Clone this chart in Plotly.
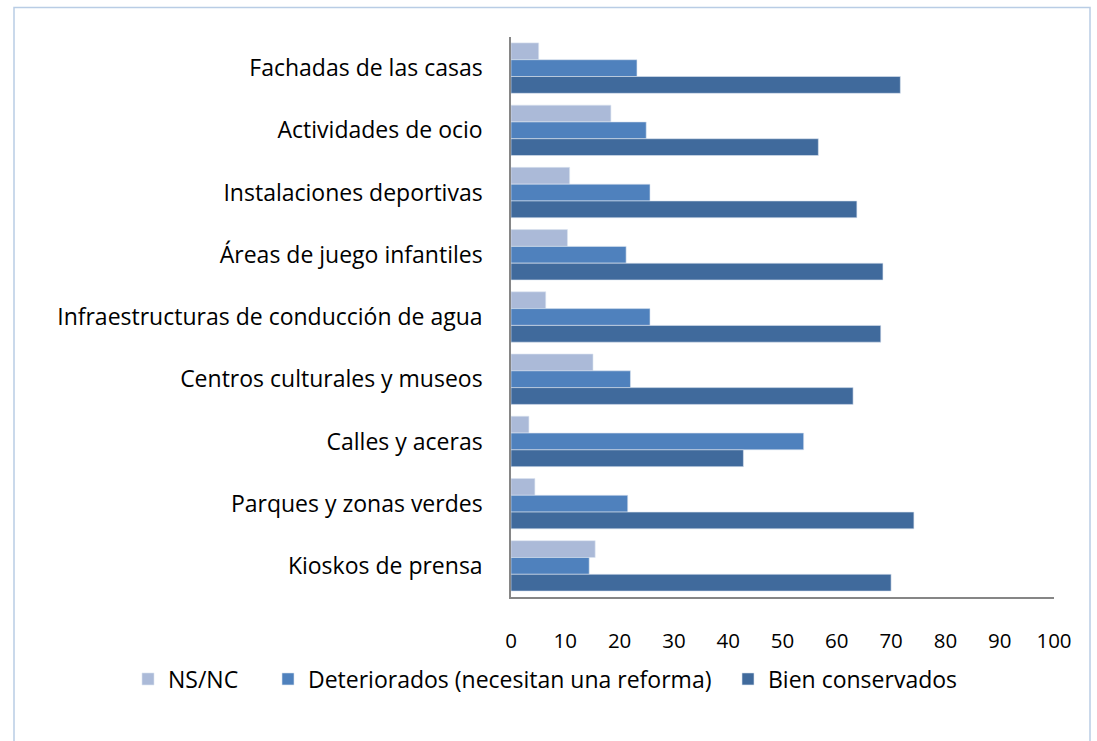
import plotly.graph_objects as go

categories = [
    "Fachadas de las casas",
    "Actividades de ocio",
    "Instalaciones deportivas",
    "Áreas de juego infantiles",
    "Infraestructuras de conducción de agua",
    "Centros culturales y museos",
    "Calles y aceras",
    "Parques y zonas verdes",
    "Kioskos de prensa",
]
ns_nc = [5.1, 18.4, 10.8, 10.4, 6.4, 15.1, 3.3, 4.4, 15.5]
deteriorados = [23.2, 24.9, 25.6, 21.2, 25.6, 22.0, 53.9, 21.5, 14.4]
bien = [71.7, 56.6, 63.7, 68.5, 68.1, 63.0, 42.8, 74.2, 70.0]
series_names = ["NS/NC", "Deteriorados (necesitan una reforma)", "Bien conservados"]
tick_vals = [0, 10, 20, 30, 40, 50, 60, 70, 80, 90, 100]

colors = ["#ABBAD8", "#4F81BD", "#406A9C"]
W, H = 1097, 741
L, R, T, B = 511, 1054, 37, 597
FONT = "Open Sans"
FS = 23
FS_X = 20.5

pw, ph = R - L, B - T
def px_x(px):
    return (px - L) / pw
def px_y(py):
    return (B - py) / ph

legend_ids = ["legend", "legend2", "legend3"]
legend_left = [128, 268, 728]
LEG_Y = 679

fig = go.Figure()
for name, vals, col, lid in zip(series_names, [ns_nc, deteriorados, bien], colors, legend_ids):
    fig.add_trace(go.Bar(
        y=categories, x=vals, name=name, orientation="h", legend=lid,
        marker=dict(color=col, line=dict(color="#DCE4F0", width=0.6)),
    ))

fig.add_shape(type="rect", xref="paper", yref="paper",
              x0=px_x(14), x1=px_x(1090), y0=px_y(780), y1=px_y(7.5),
              line=dict(color="#B9CDE5", width=1.5), fillcolor="rgba(0,0,0,0)", layer="below")

leg_common = dict(orientation="h", xanchor="left", yanchor="middle",
                  font=dict(family=FONT, size=FS), itemwidth=30,
                  bgcolor="rgba(0,0,0,0)")
layout_legends = {}
for lid, lx in zip(legend_ids, legend_left):
    layout_legends[lid] = dict(x=px_x(lx), y=px_y(LEG_Y), **leg_common)

fig.update_layout(
    width=W, height=H,
    margin=dict(l=L, r=W - R, t=T, b=H - B, autoexpand=False),
    paper_bgcolor="white", plot_bgcolor="white",
    barmode="group", bargap=0.19, bargroupgap=0,
    font=dict(family=FONT, size=FS, color="#000000"),
    showlegend=True,
    xaxis=dict(range=[0, 100], tickvals=tick_vals, showgrid=False, zeroline=False,
               showline=True, linecolor="#868686", linewidth=1.5, ticks="",
               ticklabelstandoff=25, tickfont=dict(family=FONT, size=FS_X)),
    yaxis=dict(autorange="reversed", showgrid=False, zeroline=False,
               showline=True, linecolor="#868686", linewidth=1.5, ticks="",
               ticklabelstandoff=22, tickfont=dict(family=FONT, size=FS)),
    **layout_legends,
)

fig.write_html("out.html", config={"displayModeBar": False},
               post_script="document.body.style.margin='0px';document.body.style.overflow='hidden';")
